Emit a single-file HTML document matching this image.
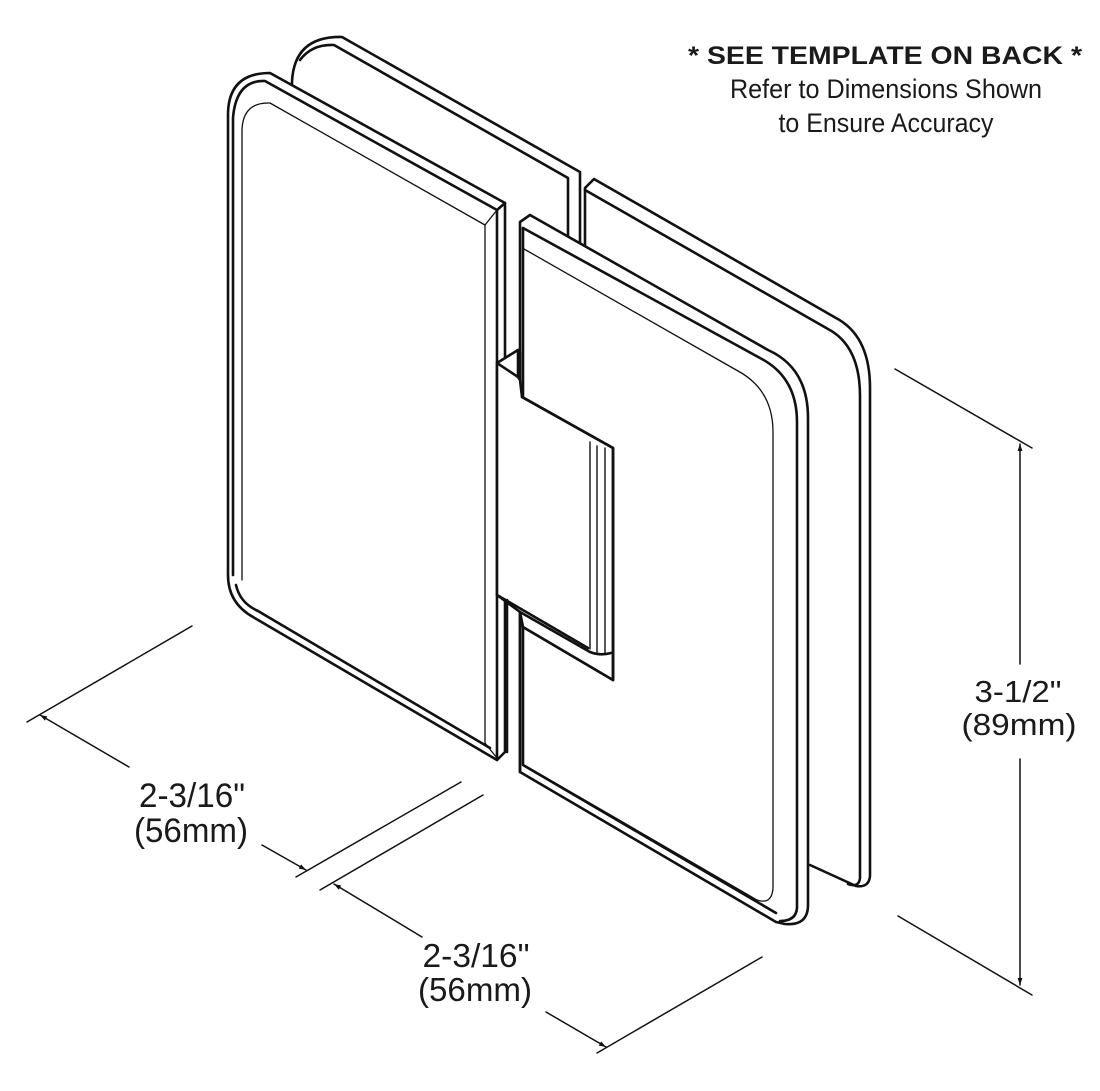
<!DOCTYPE html>
<html><head><meta charset="utf-8"><style>
html,body{margin:0;padding:0;background:#fff;}
svg{display:block;}
text{font-family:"Liberation Sans",sans-serif;fill:#1a1a1a;}
</style></head><body>
<svg width="1100" height="1091" viewBox="0 0 1100 1091" xmlns="http://www.w3.org/2000/svg">
<defs>
<marker id="ar" viewBox="0 0 10 10" refX="10" refY="5" markerWidth="14" markerHeight="7" orient="auto-start-reverse" markerUnits="userSpaceOnUse">
<path d="M0,1.5 L10,5 L0,8.5 Z" fill="#111"/>
</marker>
</defs>
<g fill="none" stroke="#111" stroke-width="2.6" stroke-linejoin="round" stroke-linecap="round">
<!-- back left plate -->
<path d="M292,320 L292,82 Q294,36 342,37 L580,172 L580,300"/>
<path d="M300,60 Q312,44 334,45 L568,178 L568,300"/>
<!-- back right plate -->
<path d="M585,300 L585,188 L594,179 L836,318 Q870,336 870,388 L870,876 Q869,888 856,886 L810,865"/>
<path d="M585,190 L828,329 Q860,346 860,396 L860,878 Q859,888 848,884"/>
<!-- front left plate -->
<path fill="#fff" d="M270,73 L505,203 L505,752 L497,760 L253,617 Q228,603 228,575 L228,115 Q228,73 270,73 Z"/>
<path d="M233,575 L233,118 Q236,80 265,81 L497,210 L497,760"/>
<path d="M497,210 L505,203"/>
<path d="M236,585 Q240,603 258,611 L490,748"/>
<path stroke-width="1.3" d="M242,580 L242,130 Q243,102 270,103 L485,225 L485,743"/>
<path stroke-width="1.3" d="M485,225 L497,210"/>
<path stroke-width="1.3" d="M485,743 L497,758"/>
<!-- right front plate -->
<path fill="#fff" d="M520,222 L530,215 L768,350 Q808,368 808,418 L808,905 Q808,926 785,924 L776,922 L520,772 L520,612 L523,627 L613,680 L613,448 L522,397 L520,380 Z"/>
<path d="M523,228 L760,358 Q797,377 797,422 L797,908 Q796,921 780,921"/>
<path d="M523,228 L523,397"/>
<path d="M523,627 L523,765 L776,913"/>
<path stroke-width="1.3" d="M524,249 L738,371 Q773,390 773,432 L773,888 Q772,905 757,900 L526,766"/>
<!-- hinge block -->
<path fill="#fff" d="M497,363 L518,350 L520,352 L520,380 L522,397 L613,448 L613,680 L523,627 L520,612 L497,595 Z"/>
<path d="M497,363 L518,377 L520,380"/>
<path d="M518,350 L518,377"/>
<path d="M522,397 L613,448 L613,680"/>
<path d="M497,595 L588,648"/>
<path d="M520,612 L590,652 Q600,656 611,653"/>
<path d="M520,612 L520,772"/>
<path d="M507,600 L507,752"/>
<path stroke-width="1.4" d="M590,442 L590,649 M597,446 L597,652 M605,448 L605,653"/>
<!-- dimension lines -->
<g stroke-width="1.5">
<path d="M192,626 L27,722"/>
<path d="M461,782 L296,877"/>
<path d="M483,795 L320,890"/>
<path d="M762,957 L597,1053"/>
<path d="M895,369 L1032,448"/>
<path d="M898,916 L1032,995"/>
<path d="M129,767 L40,715" marker-end="url(#ar)"/>
<path d="M262,845 L306,870" marker-end="url(#ar)"/>
<path d="M422,937 L334,884" marker-end="url(#ar)"/>
<path d="M546,1012 L606,1047" marker-end="url(#ar)"/>
<path d="M1020,664 L1020,444" marker-end="url(#ar)"/>
<path d="M1020,759 L1020,985" marker-end="url(#ar)"/>
</g>
</g>
<!-- labels -->
<text x="192" y="807" font-size="34" text-anchor="middle" textLength="106" lengthAdjust="spacingAndGlyphs">2-3/16"</text>
<text x="191" y="842" font-size="34" text-anchor="middle" textLength="114" lengthAdjust="spacingAndGlyphs">(56mm)</text>
<text x="476" y="967" font-size="33" text-anchor="middle" textLength="107" lengthAdjust="spacingAndGlyphs">2-3/16"</text>
<text x="475" y="1001" font-size="33" text-anchor="middle" textLength="114" lengthAdjust="spacingAndGlyphs">(56mm)</text>
<text x="1018" y="702" font-size="31" text-anchor="middle" textLength="87" lengthAdjust="spacingAndGlyphs">3-1/2"</text>
<text x="1019" y="735" font-size="31" text-anchor="middle" textLength="115" lengthAdjust="spacingAndGlyphs">(89mm)</text>
<text x="885" y="64" font-size="25" font-weight="bold" text-anchor="middle" textLength="394" lengthAdjust="spacingAndGlyphs">* SEE TEMPLATE ON BACK *</text>
<text x="886" y="98" font-size="27" text-anchor="middle" textLength="312" lengthAdjust="spacingAndGlyphs">Refer to Dimensions Shown</text>
<text x="886" y="132" font-size="27" text-anchor="middle" textLength="215" lengthAdjust="spacingAndGlyphs">to Ensure Accuracy</text>
</svg>
</body></html>
